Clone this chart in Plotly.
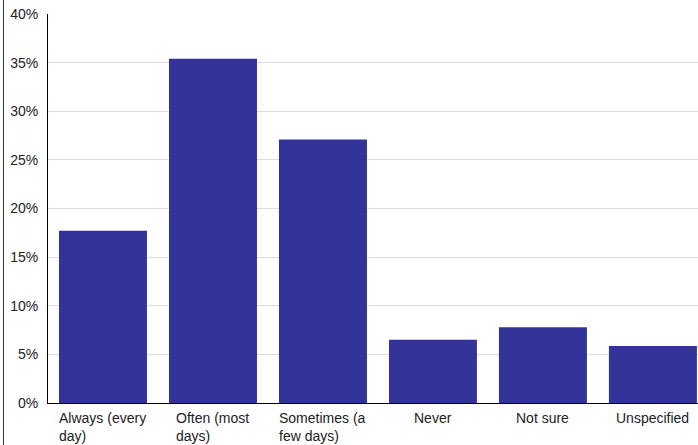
import plotly.graph_objects as go

categories = ["Always (every day)", "Often (most days)", "Sometimes (a few days)",
              "Never", "Not sure", "Unspecified"]
label_lines = [["Always (every", "day)"], ["Often (most", "days)"], ["Sometimes (a", "few days)"],
               ["Never"], ["Not sure"], ["Unspecified"]]
values = [17.7, 35.4, 27.1, 6.5, 7.8, 5.85]
y_ticks = [0, 5, 10, 15, 20, 25, 30, 35, 40]
y_tick_text = [f"{v}%" for v in y_ticks]

BAR = "#333399"
FONT = "Liberation Sans, Arial, sans-serif"
FS = 14

fig = go.Figure(go.Bar(x=categories, y=values, marker=dict(color=BAR, line=dict(width=0)),
                       hoverinfo="skip"))

annotations = []
for cat, lines in zip(categories, label_lines):
    annotations.append(dict(x=cat, y=0, xref="x", yref="paper", text="<br>".join(lines),
                            showarrow=False, xanchor="center", yanchor="top", align="left",
                            yshift=-5, font=dict(family=FONT, size=FS, color="#222222")))

fig.update_layout(
    width=698, height=445,
    margin=dict(l=48, r=0, t=14, b=42),
    paper_bgcolor="white", plot_bgcolor="white",
    bargap=0.2,
    showlegend=False,
    font=dict(family=FONT, size=FS, color="#222222"),
    annotations=annotations,
    shapes=[dict(type="line", xref="paper", yref="paper", x0=-0.0685, x1=-0.0685,
                 y0=-0.11, y1=1.04, line=dict(color="#333333", width=1))],
)
fig.update_xaxes(range=[-0.5, 5.41], showticklabels=False, showline=True, linecolor="black",
                 linewidth=1, showgrid=False, ticks="", zeroline=False, fixedrange=True)
fig.update_yaxes(range=[0, 40], tickvals=y_ticks, ticktext=y_tick_text, showgrid=True,
                 gridcolor="#dddddd", gridwidth=1, showline=True, linecolor="black", linewidth=1,
                 ticks="", ticklabelstandoff=6, zeroline=False, fixedrange=True,
                 tickfont=dict(family=FONT, size=FS, color="#222222"))

fig.write_html("out.html", config={"displayModeBar": False},
               post_script="document.body.style.margin='0';document.body.style.overflow='hidden';")
